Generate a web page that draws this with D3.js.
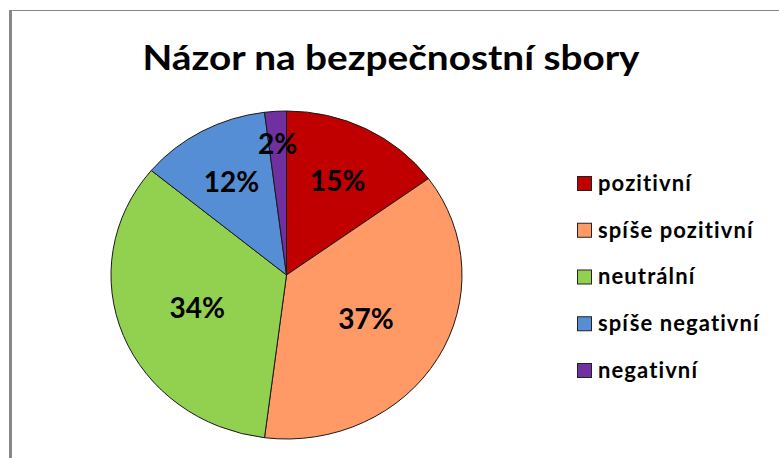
<!DOCTYPE html>
<html>
<head>
<meta charset="utf-8">
<script src="https://cdn.jsdelivr.net/npm/d3@7"></script>
<style>
  body { margin: 0; background: #fff; }
  text { font-family: Lato, "Open Sans", sans-serif; }
</style>
</head>
<body>
<svg id="chart" width="779" height="458"></svg>
<script>
var categories = ["pozitivní", "spíše pozitivní", "neutrální", "spíše negativní", "negativní"];
var values = [15, 37, 34, 12, 2];
var colours = ["#C00000", "#FF9966", "#92D050", "#558ED5", "#7030A0"];
var title = "Názor na bezpečnostní sbory";

var svg = d3.select("#chart"),
    width = +svg.attr("width"),
    height = +svg.attr("height");

// frame of the chart area (only top and left edges are visible)
svg.append("line")
    .attr("x1", 9).attr("y1", 10.5).attr("x2", width).attr("y2", 10.5)
    .attr("stroke", "#888").attr("stroke-width", 1);
svg.append("line")
    .attr("x1", 10.5).attr("y1", 10).attr("x2", 10.5).attr("y2", height)
    .attr("stroke", "#888").attr("stroke-width", 3);

svg.append("text")
    .attr("x", 391).attr("y", 70)
    .attr("text-anchor", "middle")
    .attr("font-size", 35)
    .attr("font-weight", "bold")
    .attr("textLength", 497)
    .attr("lengthAdjust", "spacingAndGlyphs")
    .text(title);

// pie is slightly squashed vertically, like the original picture
var cx = 286.5, cy = 275, rx = 175.5, ry = 164;

var pie = d3.pie().sort(null).value(function (d) { return d; });
var arcs = pie(values);

var arc = d3.arc().innerRadius(0).outerRadius(rx);

var g = svg.append("g")
    .attr("transform", "translate(" + cx + "," + cy + ") scale(1," + (ry / rx) + ")");

g.selectAll("path")
    .data(arcs)
    .enter().append("path")
    .attr("d", arc)
    .attr("fill", function (d, i) { return colours[i]; })
    .attr("stroke", "#1a1a1a")
    .attr("stroke-width", 1)
    .attr("vector-effect", "non-scaling-stroke");

// label sits at the area centroid of its slice; tiny slices get pushed outward
function labelPos(d) {
    var a = d.endAngle - d.startAngle;
    var k = 4 * Math.sin(a / 2) / (3 * a);
    if (d.data < 5) k = 0.8;
    var m = (d.startAngle + d.endAngle) / 2;
    return [Math.sin(m) * rx * k, -Math.cos(m) * ry * k];
}

svg.append("g")
    .attr("transform", "translate(" + cx + "," + cy + ")")
    .selectAll("text")
    .data(arcs)
    .enter().append("text")
    .attr("transform", function (d) {
        var c = labelPos(d);
        return "translate(" + c[0] + "," + c[1] + ")";
    })
    .attr("dy", "0.36em")
    .attr("text-anchor", "middle")
    .attr("font-size", 28)
    .attr("font-weight", "bold")
    .attr("fill", "#000")
    .text(function (d) { return d.data + "%"; });

// legend
var legendY = d3.scalePoint().domain(categories).range([183, 370]);

var legend = svg.append("g")
    .selectAll("g")
    .data(categories)
    .enter().append("g")
    .attr("transform", function (d) { return "translate(577," + legendY(d) + ")"; });

legend.append("rect")
    .attr("x", 0.5).attr("y", -6.5)
    .attr("width", 14).attr("height", 14)
    .attr("fill", function (d, i) { return colours[i]; })
    .attr("stroke", "#222").attr("stroke-width", 1);

legend.append("text")
    .attr("x", 21).attr("y", 0)
    .attr("dy", "0.36em")
    .attr("font-size", 22)
    .attr("font-weight", "bold")
    .attr("letter-spacing", 1.1)
    .text(function (d) { return d; });
</script>
</body>
</html>
